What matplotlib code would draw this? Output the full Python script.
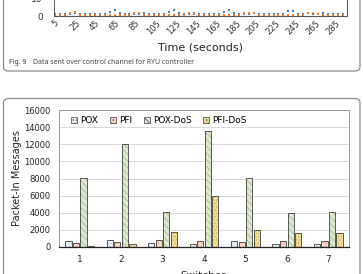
import numpy as np
import matplotlib.pyplot as plt
from matplotlib.patches import FancyBboxPatch, Patch

plt.rcParams['hatch.linewidth'] = 0.5

# --- top (cropped) figure: data sent over control channel ---
blue_vals = [1, 1, 1, 1, 1.5, 1, 1, 1, 1, 1,
             1, 2.5, 3.5, 1.5, 1, 1, 1, 1, 1.5, 1,
             1, 1, 1, 2.5, 3.5, 1.5, 1, 1, 1, 1,
             1, 1, 1, 1, 2.5, 3.5, 1.5, 1, 1, 1,
             1.5, 1, 1, 1, 1, 1, 1, 3, 3, 1,
             1, 1.5, 1, 1, 1.5, 1, 1, 1, 1]
orange_vals = [0.5, 0.5, 0.8, 1.5, 2.5, 0.8, 0.5, 0.5, 0.5, 0.5,
               0.5, 0.5, 0.5, 0.5, 0.5, 0.8, 1.5, 1.8, 0.8, 0.5,
               0.5, 0.5, 0.5, 0.8, 0.5, 0.5, 0.8, 1.5, 2, 0.8,
               0.5, 0.5, 0.5, 0.5, 0.5, 0.5, 0.5, 0.8, 1.5, 1.8,
               2, 0.8, 0.5, 0.5, 0.5, 0.5, 0.5, 0.5, 0.5, 0.5,
               0.8, 1.5, 2, 1, 0.5, 0.5, 0.5, 0.5, 0.5]
times = np.arange(5, 5 + 5 * len(blue_vals), 5)
time_ticks = list(range(5, 286, 20))

# --- main chart: packet-in messages per switch ---
switches = ['1', '2', '3', '4', '5', '6', '7']
series = ['POX', 'PFI', 'POX-DoS', 'PFI-DoS']
pox = [700, 800, 450, 350, 700, 350, 350]
pfi = [450, 550, 800, 650, 550, 650, 650]
pox_dos = [8100, 12000, 4100, 13600, 8100, 4000, 4100]
pfi_dos = [100, 300, 1700, 5900, 2000, 1600, 1600]
values = [pox, pfi, pox_dos, pfi_dos]

faces = ['#eaf1f8', '#f9d6c6', '#dde9cf', '#f1dc96']
hatch_cols = ['#9dbbd9', '#e6a688', '#9cb487', '#d4b050']
hatches = ['.....', '.....', '\\\\\\\\\\', '.....']

W, H = 363, 274
fig = plt.figure(figsize=(W / 100, H / 100), dpi=100)


def fx(px):
    return px / W


def fy(py):
    return 1 - py / H


# outline boxes (journal figure frames)
for y0, y1 in [(-40, 71), (98.5, 320)]:
    box = FancyBboxPatch((fx(3.5), fy(y1)), fx(356.5), (y1 - y0) / H,
                         boxstyle='round,pad=0,rounding_size=0.015',
                         transform=fig.transFigure, fill=False,
                         edgecolor='#8c8c8c', linewidth=0.9)
    fig.add_artist(box)

# top panel
ax0 = fig.add_axes([fx(54), fy(16), fx(293), 68 / H])
ax0.plot(times, blue_vals, 's', color='#4a7cc4', markersize=2.1, markeredgewidth=0,
         clip_on=False)
ax0.plot(times, orange_vals, 's', color='#ee7d31', markersize=1.8, markeredgewidth=0,
         clip_on=False)
ax0.set_xlim(4, 299)
ax0.set_ylim(0, 40)
ax0.set_yticks([0, 10])
ax0.set_xticks(time_ticks)
ax0.set_xticklabels([str(t) for t in time_ticks], rotation=45, fontsize=6,
                    color='#333333')
ax0.tick_params(axis='x', length=0, pad=2)
ax0.tick_params(axis='y', length=0, labelsize=6.5, colors='#333333', pad=8)
ax0.spines['top'].set_visible(False)
ax0.spines['left'].set_color('#666666')
ax0.spines['right'].set_color('#666666')
ax0.spines['bottom'].set_color('#555555')
ax0.spines['left'].set_linewidth(0.8)
ax0.spines['right'].set_linewidth(0.8)
fig.text(fx(200), fy(48), 'Time (seconds)', ha='center', va='center',
         fontsize=8, color='#222222')
fig.text(fx(9), fy(62), 'Fig. 9', ha='left', va='center', fontsize=5,
         fontweight='bold', color='#333333', family='Noto Sans')
fig.text(fx(33), fy(62), 'Data sent over control channel for RYU controller',
         ha='left', va='center', fontsize=5, color='#444444', family='Noto Sans')

# main bar chart
ax = fig.add_axes([fx(59), fy(247), fx(290), 137 / H])
x = np.arange(len(switches))
step = 0.182
bw = 0.15
for i, (vals, fc, hc, ht) in enumerate(zip(values, faces, hatch_cols, hatches)):
    pos = x + (i - 1.5) * step
    ax.bar(pos, vals, bw, color=fc, edgecolor=hc, hatch=ht, linewidth=0, zorder=2)
    ax.bar(pos, vals, bw, fill=False, edgecolor='#404040', linewidth=0.6, zorder=3)

ax.set_xlim(-0.5, len(switches) - 0.5)
ax.set_ylim(0, 16000)
ax.set_yticks(range(0, 16001, 2000))
ax.set_xticks(x)
ax.set_xticklabels(switches)
ax.grid(axis='y', color='#d9d9d9', linewidth=0.7, zorder=0)
ax.tick_params(axis='both', length=0, labelsize=6.5, colors='#222222')
ax.tick_params(axis='y', labelsize=6, pad=6)
ax.tick_params(axis='x', pad=6)
for s in ['top', 'left', 'right']:
    ax.spines[s].set_color('#9a9a9a')
    ax.spines[s].set_linewidth(0.7)
ax.spines['bottom'].set_color('#222222')
ax.spines['bottom'].set_linewidth(0.9)
fig.text(fx(17), fy(178), 'Packet-In Messages', rotation=90, ha='center',
         va='center', fontsize=7, color='#222222')
ax.set_xlabel('Switches', fontsize=7.5, color='#222222', labelpad=5)

handles = [Patch(facecolor=fc, edgecolor='#404040', hatch=ht, linewidth=0.5)
           for fc, ht in zip(faces, hatches)]
ax.legend(handles, series, loc='upper left', bbox_to_anchor=(0.02, 1.0),
          ncol=4, frameon=False, fontsize=6.5, handlelength=0.7,
          handleheight=0.7, handletextpad=0.3, columnspacing=1.3,
          borderaxespad=0.3)

fig.savefig('out.png', dpi=100)
